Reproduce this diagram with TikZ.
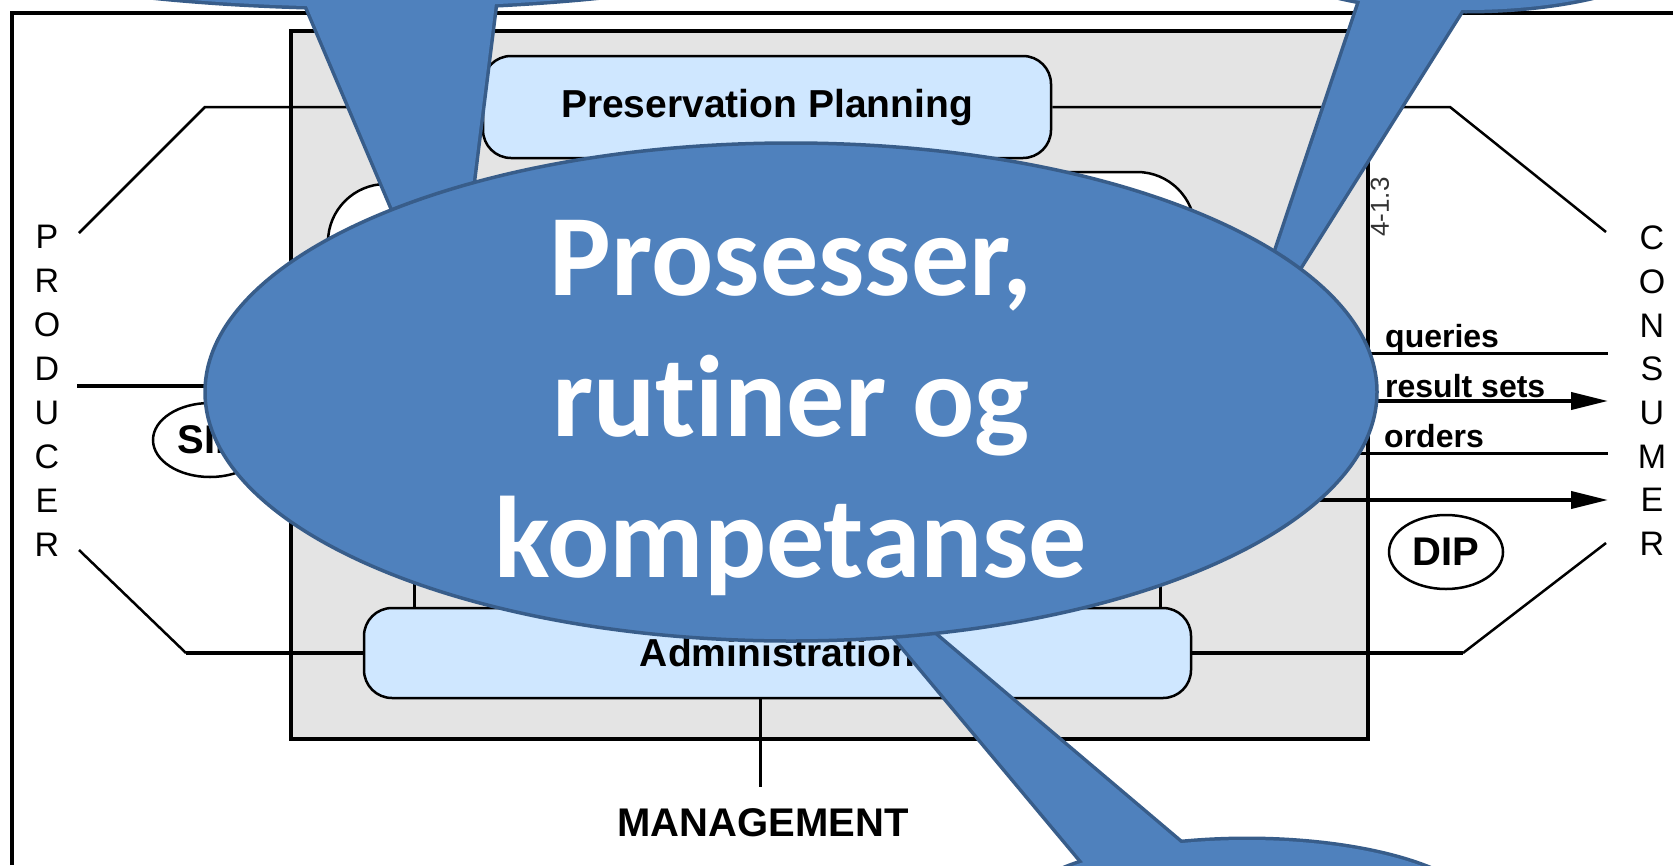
\documentclass[tikz,border=0pt]{standalone}
\usepackage{fontspec}
\setmainfont{Liberation Sans}
\newfontfamily\calibri[Ligatures=NoCommon]{Carlito}
\usetikzlibrary{arrows.meta,shapes.geometric}

\definecolor{callblue}{HTML}{4F81BD}
\definecolor{callline}{HTML}{385D8A}
\definecolor{boxblue}{RGB}{207,231,255}
\definecolor{stipple}{RGB}{228,228,228}

\begin{document}
\begin{tikzpicture}[x=1pt,y=-1pt]
   \useasboundingbox (0,0) rectangle (1673,865);
   \tikzset{letter/.style={inner sep=0pt, font=\fontsize{34}{40}\selectfont}}
   \tikzset{lbl/.style={inner sep=0pt, anchor=base west, font=\bfseries\fontsize{32}{38}\selectfont}}
   \tikzset{pbox/.style={draw, line width=2.5pt, fill=boxblue, rounded corners=28pt, inner sep=0pt,
                         font=\bfseries\fontsize{39}{45}\selectfont}}
   \tikzset{func/.style={draw, line width=2.5pt, fill=white, rounded corners=58pt, inner sep=0pt}}
   \tikzset{pkg/.style={draw, ellipse, line width=2.5pt, minimum width=114pt, minimum height=74pt,
                        inner sep=0pt, font=\bfseries\fontsize{40}{46}\selectfont}}
   \tikzset{flow/.style={line width=3pt}}
   \tikzset{resarrow/.style={line width=4pt, -{Triangle[length=37pt,width=17pt]}}}
   \tikzset{bubble/.style={draw=callline, fill=callblue, line width=3.5pt}}
   \tikzset{coretext/.style={text=white, align=center,
                             font=\calibri\bfseries\fontsize{116}{141}\selectfont}}

   % frame and archive
   \draw[line width=4pt] (12,865) -- (12,13) -- (1673,13);
   \draw[line width=4pt, fill=stipple] (291,31) rectangle (1368,739);
   \node[func, minimum width=232pt, minimum height=336pt] (ingest) at (444,352) {};
   \node[func, minimum width=195pt, minimum height=348pt] (access) at (1097.5,346) {};
   \node[pbox, minimum width=568pt, minimum height=102pt] (pp) at (767,107) {Preservation Planning};
   \node[pbox, minimum width=827pt, minimum height=90pt] (adm) at (777.5,653) {Administration};
   \node[inner sep=0pt, rotate=90, text=black!80, font=\fontsize{26}{30}\selectfont] (figno) at (1380,207) {4-1.3};

   % producer and consumer
   \foreach \l [count=\i] in {P,R,O,D,U,C,E,R}
      \node[letter] (prod\i) at (47,{237+44*(\i-1)}) {\l};
   \foreach \l [count=\i] in {C,O,N,S,U,M,E,R}
      \node[letter] (cons\i) at (1652,{238+43.7*(\i-1)}) {\l};

   \coordinate (ul) at (205,107);
   \coordinate (ul-end) at (79,233);
   \coordinate (ur) at (1450,107);
   \coordinate (ur-end) at (1606,232);
   \coordinate (ll) at (186,653);
   \coordinate (ll-end) at (79,550);
   \coordinate (lr) at (1463,653);
   \coordinate (lr-end) at (1606,543);
   \draw[line width=2.5pt] (pp.west) -- (ul) -- (ul-end);
   \draw[line width=2.5pt] (pp.east) -- (ur) -- (ur-end);
   \draw[line width=4pt] (adm.west) -- (ll);
   \draw[line width=2.5pt] (ll) -- (ll-end);
   \draw[line width=4pt] (adm.east) -- (lr);
   \draw[line width=2.5pt] (lr) -- (lr-end);

   % flows
   \coordinate (sip-in) at (77,386);
   \draw[line width=4pt] (sip-in) -- (ingest.west |- sip-in);
   \node[pkg] (sip) at (210,440) {SIP};
   \coordinate (q-end) at (1608,353);
   \coordinate (r-end) at (1608,401);
   \coordinate (o-end) at (1608,453);
   \coordinate (d-end) at (1608,500);
   \draw[flow] (access.east |- q-end) -- (q-end);
   \draw[resarrow] (access.east |- r-end) -- (r-end);
   \draw[flow] (access.east |- o-end) -- (o-end);
   \draw[resarrow] (access.east |- d-end) -- (d-end);
   \node[lbl] (q-lbl) at (1385,347) {queries};
   \node[lbl] (r-lbl) at (1385,397) {result sets};
   \node[lbl] (o-lbl) at (1384,447) {orders};
   \node[pkg] (dip) at (1446,552) {DIP};

   % management
   \node[inner sep=0pt, anchor=base, font=\bfseries\fontsize{40}{46}\selectfont] (mgmt) at (763,836) {MANAGEMENT};
   \coordinate (mgmt-top) at (760,787);
   \draw[flow] (adm.south -| mgmt-top) -- (mgmt-top);
   \coordinate (ing-foot) at (414,560);
   \coordinate (acc-foot) at (1160,560);
   \draw[flow] (ing-foot) -- (ing-foot |- adm.north);
   \draw[flow] (acc-foot) -- (acc-foot |- adm.north);

   % callouts
   \coordinate (tl-tip) at (452,348);
   \coordinate (tr-tip) at (1238,365);
   \coordinate (bt-tip) at (792,514);
   \draw[callline, line width=7pt, line join=round] (376,-70) ellipse [x radius=441, y radius=77];
   \draw[callline, line width=7pt, line join=round] (298,-15) -- (tl-tip) -- (497,-13) -- cycle;
   \draw[callline, line width=7pt, line join=round] (1466,-60) ellipse [x radius=216, y radius=70];
   \draw[callline, line width=7pt, line join=round] (1369,-25) -- (tr-tip) -- (1479,-18) -- cycle;
   \draw[callline, line width=7pt, line join=round] (1247,920) ellipse [x radius=237, y radius=80];
   \draw[callline, line width=7pt, line join=round] (1108,892) -- (bt-tip) -- (1203,862) -- cycle;
   \fill[callblue] (376,-70) ellipse [x radius=441, y radius=77];
   \fill[callblue] (298,-15) -- (tl-tip) -- (497,-13) -- cycle;
   \fill[callblue] (1466,-60) ellipse [x radius=216, y radius=70];
   \fill[callblue] (1369,-25) -- (tr-tip) -- (1479,-18) -- cycle;
   \fill[callblue] (1247,920) ellipse [x radius=237, y radius=80];
   \fill[callblue] (1108,892) -- (bt-tip) -- (1203,862) -- cycle;

   \node[bubble, ellipse, minimum width=1172pt, minimum height=498pt] (core) at (791,392) {};
   \node[coretext] (core-txt) at (791,408) {Prosesser,\\rutiner og\\kompetanse};
\end{tikzpicture}
\end{document}
